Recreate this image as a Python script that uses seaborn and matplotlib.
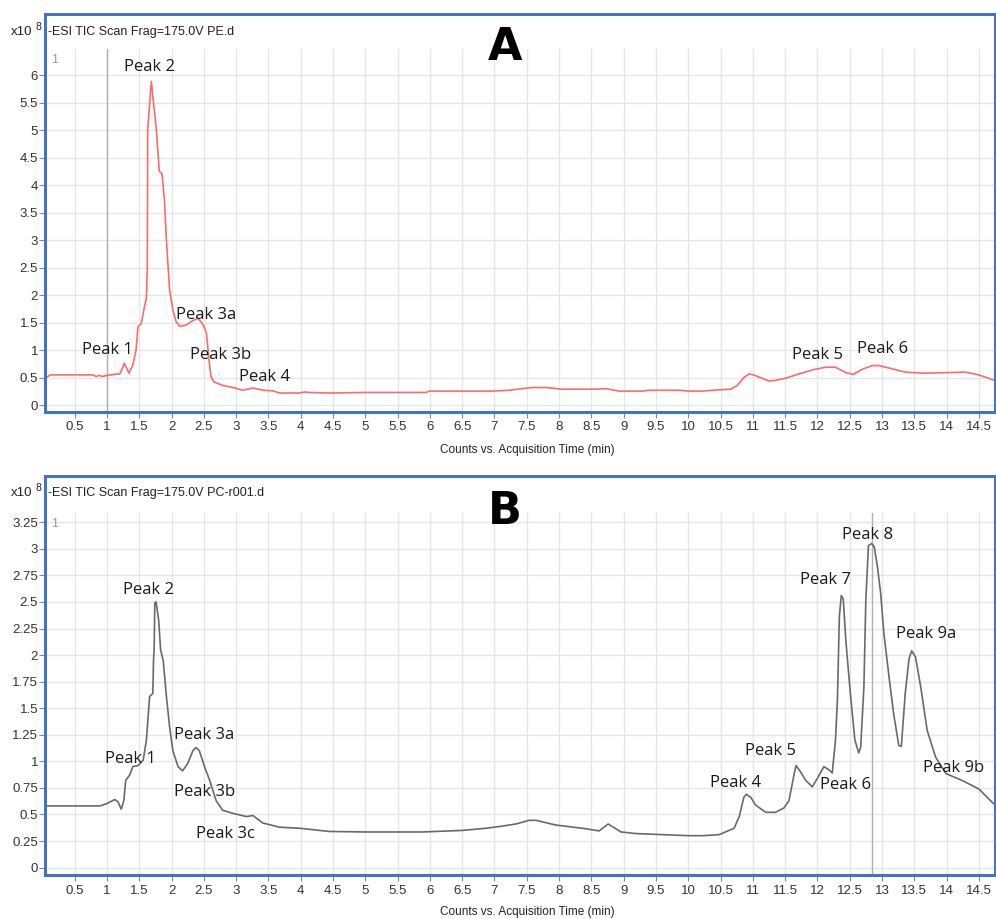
import numpy as np
import matplotlib
matplotlib.use("Agg")
import matplotlib.pyplot as plt
from matplotlib.patches import Rectangle
import seaborn as sns

# TIC trace, panel A (PE.d), time in min, counts in 1e8
pe_time = [0.06, 0.12, 0.30, 0.60, 0.78, 0.83, 0.88, 0.93, 1.00, 1.06, 1.13, 1.20,
           1.27, 1.34, 1.40, 1.45, 1.48, 1.53, 1.58, 1.61, 1.625, 1.63, 1.686, 1.72,
           1.76, 1.81, 1.85, 1.89, 1.92, 1.97, 2.02, 2.07, 2.13, 2.23, 2.33, 2.41,
           2.49, 2.54, 2.58, 2.61, 2.66, 2.79, 2.95, 3.10, 3.26, 3.42, 3.57, 3.67,
           3.98, 4.06, 4.12, 4.44, 5.00, 5.50, 5.94, 5.99, 6.50, 6.97, 7.23, 7.43,
           7.59, 7.79, 8.05, 8.57, 8.72, 8.93, 9.29, 9.39, 9.86, 10.01, 10.22, 10.37,
           10.66, 10.76, 10.86, 10.94, 11.01, 11.25, 11.35, 11.51, 11.71, 11.92, 12.13,
           12.28, 12.44, 12.56, 12.69, 12.85, 12.95, 13.16, 13.36, 13.67, 13.98, 14.29,
           14.50, 14.73]
pe_counts = [0.50, 0.55, 0.55, 0.55, 0.55, 0.52, 0.54, 0.52, 0.54, 0.55, 0.56, 0.57,
             0.76, 0.58, 0.73, 1.00, 1.43, 1.48, 1.79, 1.94, 2.52, 5.00, 5.89, 5.50,
             5.07, 4.25, 4.22, 3.73, 3.00, 2.09, 1.73, 1.52, 1.43, 1.46, 1.54, 1.58,
             1.46, 1.31, 0.82, 0.52, 0.42, 0.36, 0.32, 0.27, 0.31, 0.27, 0.26, 0.22,
             0.22, 0.24, 0.23, 0.22, 0.23, 0.23, 0.23, 0.255, 0.255, 0.255, 0.27, 0.30,
             0.32, 0.32, 0.29, 0.29, 0.30, 0.255, 0.255, 0.27, 0.27, 0.255, 0.255, 0.27,
             0.29, 0.36, 0.50, 0.565, 0.55, 0.44, 0.45, 0.49, 0.565, 0.64, 0.69,
             0.69, 0.59, 0.56, 0.65, 0.72, 0.72, 0.66, 0.60, 0.58, 0.59, 0.60,
             0.55, 0.455]

# TIC trace, panel B (PC-r001.d)
pc_time = [0.06, 0.50, 0.89, 0.99, 1.12, 1.17, 1.22, 1.26, 1.29, 1.35, 1.40, 1.48,
           1.56, 1.61, 1.66, 1.71, 1.72, 1.73, 1.74, 1.76, 1.80, 1.83, 1.87, 1.92,
           1.97, 2.02, 2.10, 2.17, 2.25, 2.33, 2.38, 2.43, 2.51, 2.59, 2.69, 2.79,
           2.95, 3.16, 3.26, 3.41, 3.67, 3.98, 4.44, 5.00, 5.89, 6.51, 6.87, 7.12,
           7.33, 7.54, 7.64, 7.95, 8.36, 8.62, 8.76, 8.96, 9.19, 9.60, 10.01, 10.22,
           10.48, 10.71, 10.79, 10.86, 10.90, 10.97, 11.04, 11.20, 11.35, 11.48, 11.56,
           11.64, 11.67, 11.74, 11.82, 11.92, 12.00, 12.10, 12.18, 12.23, 12.28, 12.31,
           12.34, 12.37, 12.40, 12.44, 12.51, 12.58, 12.64, 12.67, 12.72, 12.75, 12.79,
           12.84, 12.88, 12.93, 12.98, 13.03, 13.11, 13.18, 13.26, 13.30, 13.36, 13.42,
           13.46, 13.52, 13.60, 13.70, 13.83, 13.99, 14.24, 14.50, 14.73]
pc_counts = [0.58, 0.58, 0.58, 0.60, 0.64, 0.62, 0.55, 0.63, 0.82, 0.87, 0.95, 0.96,
             1.01, 1.20, 1.61, 1.64, 1.95, 2.05, 2.49, 2.50, 2.33, 2.05, 1.95, 1.61,
             1.32, 1.10, 0.95, 0.91, 0.98, 1.10, 1.13, 1.10, 0.95, 0.82, 0.63, 0.54,
             0.51, 0.48, 0.49, 0.42, 0.38, 0.37, 0.34, 0.335, 0.335, 0.35, 0.37, 0.39,
             0.41, 0.445, 0.445, 0.40, 0.37, 0.345, 0.41, 0.335, 0.32, 0.31, 0.30, 0.30,
             0.31, 0.37, 0.48, 0.66, 0.69, 0.66, 0.59, 0.52, 0.52, 0.56, 0.63,
             0.88, 0.96, 0.90, 0.82, 0.76, 0.84, 0.95, 0.92, 0.89, 1.20, 1.58,
             2.36, 2.56, 2.53, 2.14, 1.64, 1.20, 1.08, 1.13, 1.70, 2.52, 3.03,
             3.05, 3.02, 2.83, 2.58, 2.20, 1.79, 1.45, 1.15, 1.14, 1.64, 1.97,
             2.04, 1.98, 1.70, 1.29, 1.04, 0.885, 0.82, 0.74, 0.60]

# peak annotations (label, time, counts)
pe_labels = ["Peak 1", "Peak 2", "Peak 3a", "Peak 3b", "Peak 4", "Peak 5", "Peak 6"]
pe_label_t = [1.01, 1.66, 2.54, 2.76, 3.44, 12.0, 13.01]
pe_label_v = [1.00, 6.16, 1.64, 0.91, 0.51, 0.91, 1.02]

pc_labels = ["Peak 1", "Peak 2", "Peak 3a", "Peak 3b", "Peak 3c", "Peak 4", "Peak 5",
             "Peak 6", "Peak 7", "Peak 8", "Peak 9a", "Peak 9b"]
pc_label_t = [1.37, 1.64, 2.51, 2.51, 2.84, 10.74, 11.28, 12.44, 12.13, 12.78, 13.69, 14.11]
pc_label_v = [1.02, 2.61, 1.25, 0.71, 0.32, 0.80, 1.10, 0.78, 2.71, 3.13, 2.20, 0.94]

x_ticks = np.arange(0.5, 14.51, 0.5)
pe_y_ticks = np.arange(0, 6.01, 0.5)
pc_y_ticks = np.arange(0, 3.26, 0.25)

sns.set_theme(style="white")
plt.rcParams["font.family"] = ["Liberation Sans", "DejaVu Sans"]

W, H = 996, 919
fig = plt.figure(figsize=(W / 100, H / 100), dpi=100)

BLUE = "#4472c4"
GRID = "#e6e6e6"


def fx(px):
    return px / W


def fy(py):
    return 1 - py / H


panels = [
    dict(time=pe_time, counts=pe_counts, color="#ff6b6b", top=49, bottom=411.7, box_top=14,
         ylim=(-0.12, 6.48), yticks=pe_y_ticks, labels=pe_labels, lt=pe_label_t,
         lv=pe_label_v, header="-ESI TIC Scan Frag=175.0V PE.d", head_y=32,
         letter="A", letter_y=48, cursor=1.0, xlab_y=450),
    dict(time=pc_time, counts=pc_counts, color="#6a6a6a", top=512.7, bottom=875,
         box_top=475.7, ylim=(-0.07, 3.34), yticks=pc_y_ticks, labels=pc_labels,
         lt=pc_label_t, lv=pc_label_v, header="-ESI TIC Scan Frag=175.0V PC-r001.d",
         head_y=493, letter="B", letter_y=512, cursor=12.84, xlab_y=912),
]

left, right = 45, 995
for p in panels:
    ax = fig.add_axes([fx(left), fy(p["bottom"]), fx(right - left),
                       (p["bottom"] - p["top"]) / H])
    ax.set_axisbelow(True)
    ax.grid(True, color=GRID, lw=1)
    ax.axvline(p["cursor"], color="#b0b0b0", lw=1, zorder=1)
    sns.lineplot(x=p["time"], y=p["counts"], ax=ax, color=p["color"], lw=1.2,
                 estimator=None, sort=False, zorder=3)
    ax.set_xlim(0.04, 14.75)
    ax.set_ylim(*p["ylim"])
    ax.set_xticks(x_ticks)
    ax.set_xticklabels([f"{t:g}" for t in x_ticks])
    ax.set_yticks(p["yticks"])
    ax.set_yticklabels([f"{t:g}" for t in p["yticks"]])
    ax.tick_params(axis="both", which="both", length=4, width=0.8, color="#888888",
                   labelsize=9.5, labelcolor="#333333", direction="out")
    ax.tick_params(axis="x", pad=3, bottom=True)
    ax.tick_params(axis="y", pad=1, left=True)
    for s in ax.spines.values():
        s.set_visible(False)
    ax.set_xlabel("")
    ax.set_ylabel("")

    for lab, t, v in zip(p["labels"], p["lt"], p["lv"]):
        ax.text(t, v, lab, ha="center", va="center", fontsize=12,
                family=["Open Sans", "DejaVu Sans"], color="#1a1a1a", zorder=4)

    ax.text(0.006, 0.97, "1", transform=ax.transAxes, ha="left", va="center",
            fontsize=9, color="#999999")

    # panel frame in blue (header + plot)
    box = Rectangle((fx(left), fy(p["bottom"])), fx(right - left),
                    (p["bottom"] - p["box_top"]) / H, transform=fig.transFigure,
                    fill=False, edgecolor=BLUE, lw=2.2, zorder=10)
    fig.add_artist(box)

    fig.text(fx(48), fy(p["head_y"]), p["header"], ha="left", va="center",
             fontsize=9, color="#222222")
    fig.text(fx(11), fy(p["head_y"]), "x10", ha="left", va="center",
             fontsize=9.5, color="#222222")
    fig.text(fx(35), fy(p["head_y"] - 5), "8", ha="left", va="center",
             fontsize=7.5, color="#222222")
    fig.text(fx(505), fy(p["letter_y"]), p["letter"], ha="center", va="center",
             fontsize=32, fontweight="heavy", family="DejaVu Sans", color="black")
    fig.text(fx(527), fy(p["xlab_y"]), "Counts vs. Acquisition Time (min)",
             ha="center", va="center", fontsize=8.5, color="#222222")

fig.savefig("out.png", dpi=100)
